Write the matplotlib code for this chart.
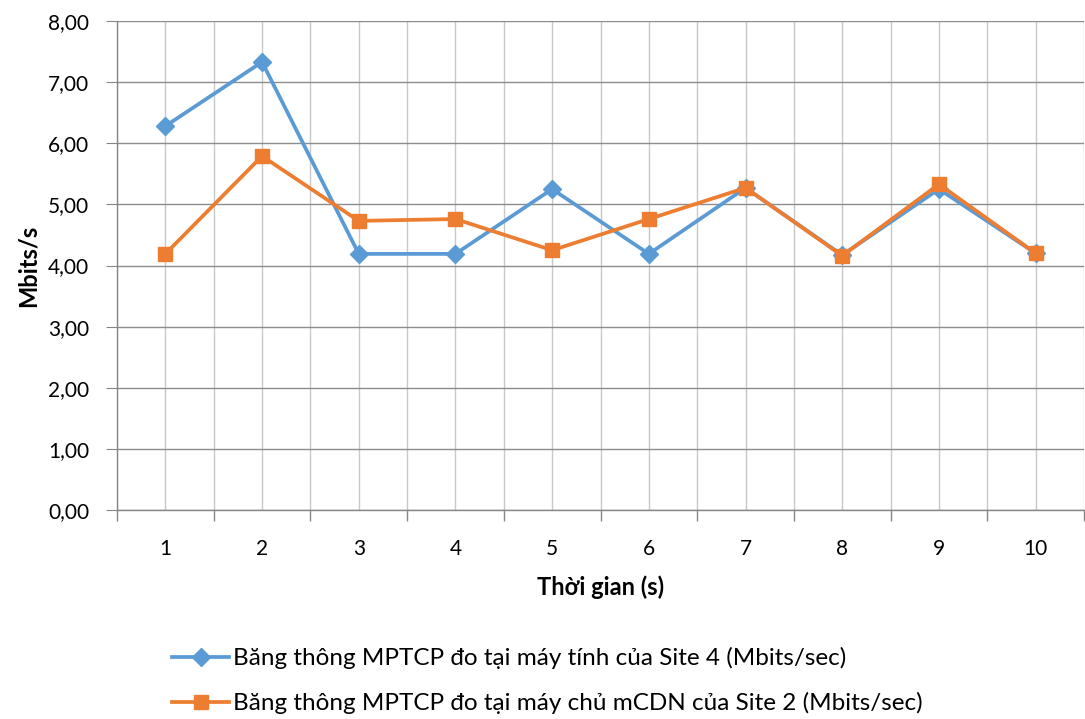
import matplotlib
matplotlib.use("Agg")
import matplotlib.pyplot as plt
from matplotlib.ticker import FixedLocator, FuncFormatter

plt.rcParams['font.family'] = ['Lato', 'DejaVu Sans']

categories = [1, 2, 3, 4, 5, 6, 7, 8, 9, 10]
site4 = [6.28, 7.33, 4.19, 4.19, 5.25, 4.19, 5.27, 4.17, 5.25, 4.20]
site2 = [4.19, 5.79, 4.73, 4.76, 4.25, 4.76, 5.27, 4.16, 5.33, 4.20]
label4 = "Băng thông MPTCP đo tại máy tính của Site 4 (Mbits/sec)"
label2 = "Băng thông MPTCP đo tại máy chủ mCDN của Site 2 (Mbits/sec)"
yticks = [0, 1, 2, 3, 4, 5, 6, 7, 8]

fig = plt.figure(figsize=(10.85, 7.19), dpi=100)
W, H = 1085, 719
ax = fig.add_axes([117 / W, (H - 510) / H, (1084 - 117) / W, (510 - 21) / H])

x = list(range(len(categories)))
blue = '#5b9bd5'
orange = '#ed7d31'
ax.plot(x, site4, color=blue, lw=2.7, marker='D', ms=9, label=label4, zorder=3)
ax.plot(x, site2, color=orange, lw=2.7, marker='s', ms=10.5, label=label2, zorder=4)

ax.set_xlim(-0.5, len(categories) - 0.5)
ax.set_ylim(0, 8)
ax.set_yticks(yticks)
ax.yaxis.set_major_formatter(FuncFormatter(lambda v, p: f"{v:.2f}".replace('.', ',')))
ax.set_xticks(x)
ax.set_xticklabels([str(c) for c in categories])
ax.xaxis.set_minor_locator(FixedLocator([i - 0.5 for i in range(len(categories) + 1)]))

ax.tick_params(axis='x', which='major', length=0, labelsize=15, pad=21, colors='black')
ax.tick_params(axis='x', which='minor', length=8, color='#868686', width=1)
ax.tick_params(axis='y', which='major', length=8, color='#868686', labelsize=15, pad=12)

ax.grid(axis='y', which='major', color='#8c8c8c', lw=1)
ax.grid(axis='x', which='major', color='#c8c8c8', lw=1)
ax.grid(axis='x', which='minor', color='#c8c8c8', lw=1)
ax.set_axisbelow(True)

for s in ['top', 'right']:
    ax.spines[s].set_visible(False)
for s in ['left', 'bottom']:
    ax.spines[s].set_color('#868686')
    ax.spines[s].set_linewidth(1)

ax.set_ylabel('Mbits/s', fontsize=17, fontweight='bold', labelpad=6)
ax.set_xlabel('Thời gian (s)', fontsize=17, fontweight='bold', labelpad=12)

fig.legend(loc='upper left', bbox_to_anchor=(172 / W, 1 - 647 / H), frameon=False,
           fontsize=17.5, handlelength=2.35, handletextpad=0.15, labelspacing=0.95,
           borderaxespad=0, borderpad=0)

fig.savefig('out.png', dpi=100)
